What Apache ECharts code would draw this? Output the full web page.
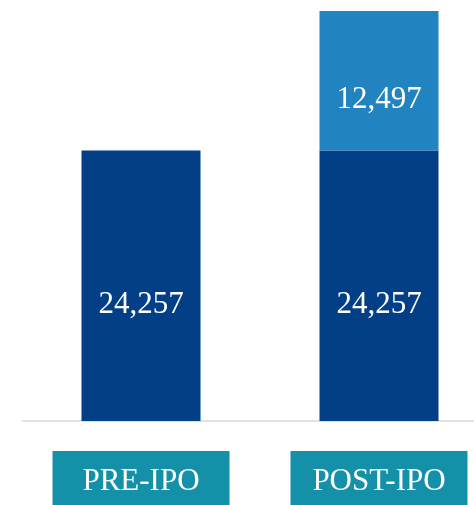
<!DOCTYPE html>
<html>
<head>
<meta charset="utf-8">
<script src="https://cdn.jsdelivr.net/npm/echarts@6/dist/echarts.min.js"></script>
<style>
html,body{margin:0;padding:0;background:#fff;}
#chart{width:474px;height:505px;}
</style>
</head>
<body>
<div id="chart"></div>
<script>
const categories = ['PRE-IPO', 'POST-IPO'];
const baseShares = [24257, 24257];
const newShares = ['-', 12497];

const totals = categories.map((c, i) => baseShares[i] + (typeof newShares[i] === 'number' ? newShares[i] : 0));
const yMax = Math.max(...totals);

const fontFamily = '"Liberation Serif", "DejaVu Serif", serif';
const fmt = v => Number(v).toLocaleString('en-US');

const chart = echarts.init(document.getElementById('chart'), null, {renderer: 'canvas'});
chart.setOption({
  animation: false,
  grid: {left: 22, right: -24, top: 11, bottom: 84, containLabel: false, outerBoundsMode: 'none'},
  xAxis: {
    type: 'category',
    data: categories,
    axisLine: {show: true, lineStyle: {color: '#d9d9d9', width: 1.5}},
    axisTick: {show: false},
    axisLabel: {
      margin: 30,
      color: '#ffffff',
      fontFamily: fontFamily,
      fontSize: 31,
      backgroundColor: '#1590a9',
      width: 177,
      height: 55,
      lineHeight: 55,
      padding: [3, 0, 0, 0],
      align: 'center',
      verticalAlign: 'top'
    }
  },
  yAxis: {
    type: 'value',
    show: false,
    min: 0,
    max: yMax,
    splitLine: {show: false}
  },
  series: [
    {
      type: 'bar',
      stack: 'shares',
      data: baseShares,
      barWidth: 119,
      itemStyle: {color: '#023f86'},
      label: {
        show: true,
        position: 'inside',
        offset: [0, 19],
        color: '#ffffff',
        fontFamily: fontFamily,
        fontSize: 31,
        formatter: p => fmt(p.value)
      }
    },
    {
      type: 'bar',
      stack: 'shares',
      data: newShares,
      barWidth: 119,
      itemStyle: {color: '#2184c0'},
      label: {
        show: true,
        position: 'inside',
        offset: [0, 19],
        color: '#ffffff',
        fontFamily: fontFamily,
        fontSize: 31,
        formatter: p => fmt(p.value)
      }
    }
  ]
});
</script>
</body>
</html>
